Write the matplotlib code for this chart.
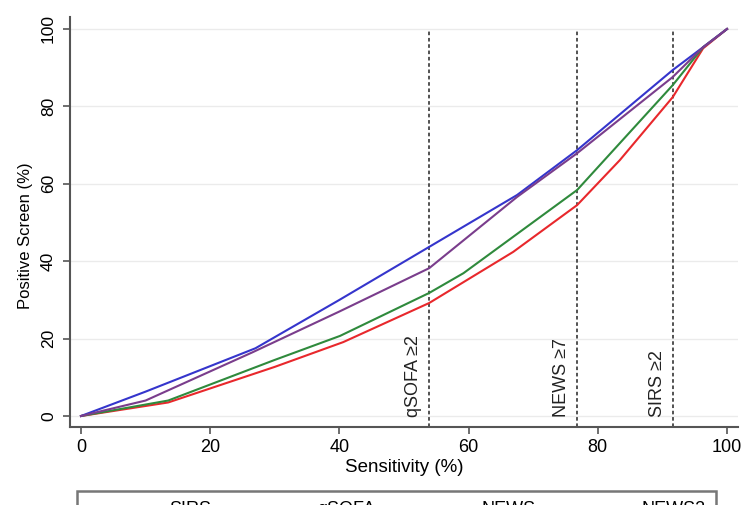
import matplotlib
matplotlib.use("Agg")
import matplotlib.pyplot as plt

plt.rcParams['font.family'] = ['Liberation Sans', 'DejaVu Sans']

# sensitivity (%) vs positive screen (%) for each score
sirs_x = [0, 13.5, 30, 40.6, 53.9, 66.9, 76.8, 83.4, 91.6, 96.3, 100]
sirs_y = [0, 3.5, 12.7, 19.1, 29.2, 42.4, 54.5, 66.1, 82.4, 95.0, 100]

qsofa_x = [0, 13.5, 30, 40.1, 53.9, 59.2, 76.8, 91.6, 96.3, 100]
qsofa_y = [0, 4.0, 14.5, 20.7, 31.8, 36.9, 58.4, 85.5, 95.3, 100]

news_x = [0, 10, 27, 40, 53.9, 67.5, 76.8, 91.6, 96.3, 100]
news_y = [0, 6.3, 17.5, 30.0, 43.7, 57.1, 68.7, 89.4, 95.3, 100]

news2_x = [0, 10, 26.6, 40, 53.9, 67.5, 76.8, 91.6, 96.3, 100]
news2_y = [0, 4.0, 16.5, 27.0, 38.2, 56.6, 67.9, 87.6, 95.3, 100]

series = [
    ("SIRS", sirs_x, sirs_y, "#e8282c"),
    ("qSOFA", qsofa_x, qsofa_y, "#2f8a3c"),
    ("NEWS", news_x, news_y, "#3535cc"),
    ("NEWS2", news2_x, news2_y, "#7a3d8c"),
]

cutoffs = [53.9, 76.8, 91.6]
cutoff_labels = ["qSOFA \u22652", "NEWS \u22657", "SIRS \u22652"]

ticks = [0, 20, 40, 60, 80, 100]

fig = plt.figure(figsize=(7.49, 5.05), dpi=100)
ax = fig.add_axes([70 / 749, 1 - 427 / 505, (738 - 70) / 749, (427 - 17) / 505])

for v in ticks:
    ax.axhline(v, color="#ebebeb", lw=1.0, zorder=0)

for name, xs, ys, col in series:
    ax.plot(xs, ys, color=col, lw=1.5, label=name, zorder=3)

ylo, yhi = -2.84, 103.1
for c, lab in zip(cutoffs, cutoff_labels):
    ax.vlines(c, ylo, 100, colors="#444444", linestyles=(0, (2.0, 1.5)), lw=1.3, zorder=2)
    ax.annotate(lab, xy=(c, 0), xytext=(-5, -1), textcoords="offset points",
                rotation=90, ha="right", va="bottom", fontsize=13, color="#222222")

ax.set_xlim(-1.7, 101.7)
ax.set_ylim(ylo, yhi)
ax.set_xticks(ticks)
ax.set_yticks(ticks)
ax.tick_params(axis="x", labelsize=13, length=5, width=1.2, color="#555555", pad=4)
ax.tick_params(axis="y", labelsize=12.5, length=5, width=1.2, color="#555555", pad=5)
for lab in ax.get_yticklabels():
    lab.set_rotation(90)
    lab.set_va("center")

for s in ["top", "right"]:
    ax.spines[s].set_visible(False)
for s in ["left", "bottom"]:
    ax.spines[s].set_color("#555555")
    ax.spines[s].set_linewidth(1.5)

ax.set_xlabel("Sensitivity (%)", fontsize=13.5, labelpad=2)
ax.set_ylabel("Positive Screen (%)", fontsize=12)
ax.yaxis.set_label_coords(-0.0554, 0.466)

leg = fig.legend(loc="upper left", ncol=4,
                 bbox_to_anchor=(77 / 749, 1 - 491 / 505),
                 fontsize=13, frameon=True, fancybox=False, framealpha=1,
                 edgecolor="#777777", handlelength=3.6, handletextpad=0.9,
                 columnspacing=1.38, borderpad=0.58, borderaxespad=0)
leg.get_frame().set_linewidth(1.8)

fig.savefig("out.png", dpi=100)
